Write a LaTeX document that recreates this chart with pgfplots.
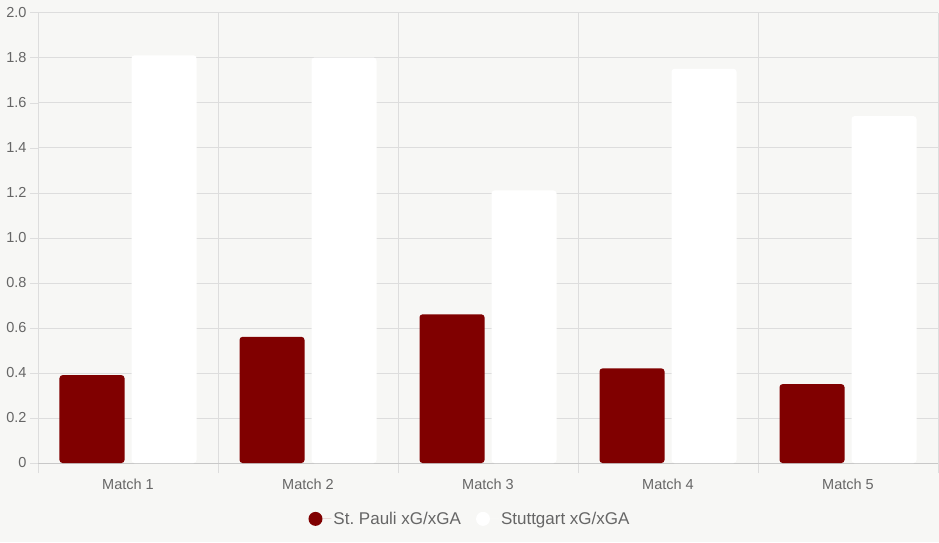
\documentclass[border=0pt]{standalone}
\usepackage{fontspec}
\setmainfont{Liberation Sans}
\usepackage{pgfplots}
\pgfplotsset{compat=1.18}
\definecolor{bg}{HTML}{F7F7F5}
\definecolor{gridc}{HTML}{DDDDDD}
\definecolor{axc}{HTML}{C8C8C8}
\definecolor{txt}{HTML}{666666}
\definecolor{pauli}{HTML}{800000}
\begin{document}
\begin{tikzpicture}[x=1pt,y=1pt]
\fill[bg] (0,0) rectangle (939,542);
\begin{axis}[
  at={(38pt,79pt)}, anchor=south west,
  scale only axis, width=900pt, height=450.5pt,
  xmin=-0.5, xmax=4.5, ymin=0, ymax=2,
  ybar, bar width=65pt,
  axis lines*=left,
  x axis line style={axc},
  y axis line style={gridc},
  xtick={0,1,2,3,4},
  xticklabels={Match 1,Match 2,Match 3,Match 4,Match 5},
  minor xtick={-0.5,0.5,1.5,2.5,3.5,4.5},
  ytick={0,0.2,0.4,0.6,0.8,1.0,1.2,1.4,1.6,1.8,2.0},
  yticklabels={0,0.2,0.4,0.6,0.8,1.0,1.2,1.4,1.6,1.8,2.0},
  xminorgrids=true, ymajorgrids=true,
  grid style={gridc},
  tick align=outside,
  major tick length=8pt, minor tick length=10pt,
  major x tick style={draw=none},
  minor x tick style={gridc},
  major y tick style={gridc},
  /pgf/number format/assume math mode=true,
  ticklabel style={font=\fontsize{14.5}{17}\selectfont, text=txt},
  xticklabel style={yshift=-4pt},
  legend columns=2,
  legend style={at={(0.48,-0.124)}, anchor=center, draw=none, fill=none,
    font=\fontsize{17}{20}\selectfont, text=txt,
    /tikz/every even column/.append style={column sep=13pt}},
]
\addplot[fill=pauli, draw=none, bar shift=-36pt, rounded corners=3pt,
  legend image code/.code={\fill[pauli] (0pt,0pt) circle (7pt);
    \path (0pt,0pt) -- (16pt,0pt);}]
  coordinates {(0,0.39) (1,0.56) (2,0.66) (3,0.42) (4,0.35)};
\addplot[fill=white, draw=none, bar shift=36pt, rounded corners=3pt,
  legend image code/.code={\fill[white] (0pt,0pt) circle (7pt);
    \path (0pt,0pt) -- (16pt,0pt);}]
  coordinates {(0,1.81) (1,1.80) (2,1.21) (3,1.75) (4,1.54)};
\legend{St.\ Pauli xG/xGA, Stuttgart xG/xGA}
\end{axis}
\end{tikzpicture}
\end{document}
